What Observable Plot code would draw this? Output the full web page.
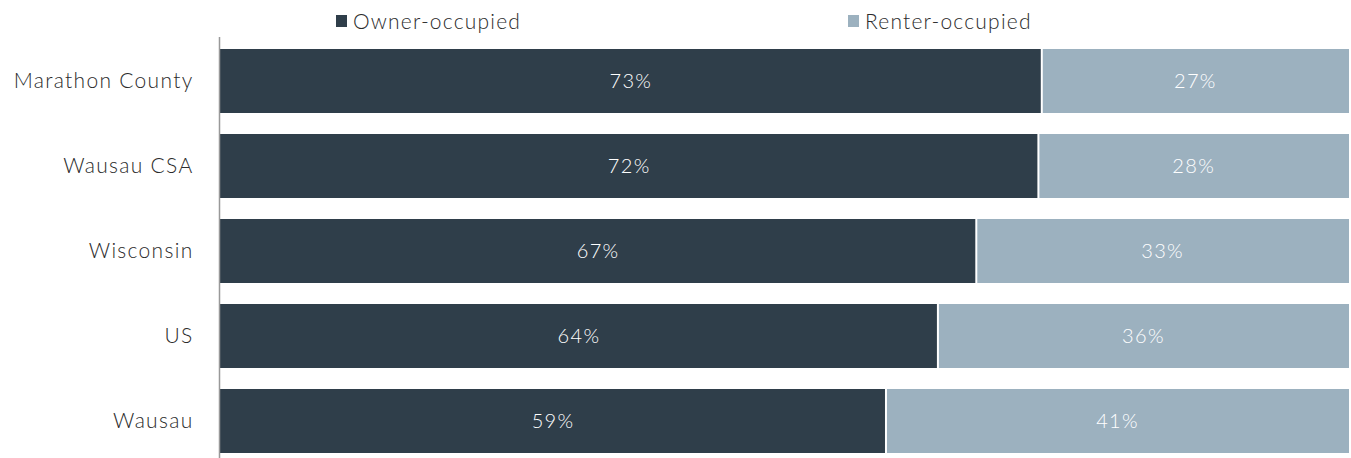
<!DOCTYPE html>
<html>
<head>
<meta charset="utf-8">
<script src="https://cdn.jsdelivr.net/npm/d3@7"></script>
<script src="https://cdn.jsdelivr.net/npm/@observablehq/plot@0.6"></script>
<style>
  html, body { margin: 0; padding: 0; background: #fff; }
  #wrap { position: relative; width: 1351px; height: 458px; font-family: Lato, "Open Sans", sans-serif; font-weight: 300; }
  .leg { position: absolute; top: 8px; font-size: 21px; letter-spacing: 1.2px; color: #2b2b2b; display: flex; align-items: center; white-space: nowrap; }
  .sw { display: inline-block; width: 11px; height: 12px; margin-right: 6px; }
  #chart { position: absolute; left: 0; top: 0; }
  #chart svg text { font-weight: 300; }
</style>
</head>
<body>
<div id="wrap">
  <div id="chart"></div>
  <div class="leg" style="left:336px"><span class="sw" style="background:#2f3e4a"></span>Owner-occupied</div>
  <div class="leg" style="left:848px"><span class="sw" style="background:#9cb1bf"></span>Renter-occupied</div>
</div>
<script>
const categories = ["Marathon County", "Wausau CSA", "Wisconsin", "US", "Wausau"];
const ownerValues = [72.7, 72.4, 66.9, 63.5, 58.9];
const ownerLabels = ["73%", "72%", "67%", "64%", "59%"];
const renterLabels = ["27%", "28%", "33%", "36%", "41%"];
const colors = { owner: "#2f3e4a", renter: "#9cb1bf" };

const owner = categories.map((c, i) => ({ cat: c, x1: 0, x2: ownerValues[i], label: ownerLabels[i] }));
const renter = categories.map((c, i) => ({ cat: c, x1: ownerValues[i], x2: 100, label: renterLabels[i] }));

const chart = Plot.plot({
  width: 1351,
  height: 458,
  marginLeft: 220,
  marginRight: 2,
  marginTop: 37,
  marginBottom: 0,
  style: { fontFamily: "Lato, 'Open Sans', sans-serif", fontSize: "21px", color: "#2b2b2b", background: "transparent", letterSpacing: "1.3px" },
  x: { domain: [0, 100], axis: null },
  y: { domain: categories, range: [37, 465], paddingInner: 0.25, paddingOuter: 0.129, align: 0.5, label: null },
  marks: [
    Plot.barX(owner, { y: "cat", x1: "x1", x2: "x2", fill: colors.owner }),
    Plot.barX(renter, { y: "cat", x1: "x1", x2: "x2", fill: colors.renter, insetLeft: 2 }),
    Plot.text(owner, { y: "cat", x: d => (d.x1 + d.x2) / 2, text: "label", fill: "white", fontSize: 20 }),
    Plot.text(renter, { y: "cat", x: d => (d.x1 + d.x2) / 2, text: "label", fill: "white", fontSize: 20 }),
    Plot.ruleX([0], { stroke: "#999", strokeWidth: 1.5, dx: -1 }),
    Plot.axisY({ tickSize: 0, tickPadding: 27, fontSize: 21, fill: "#2b2b2b" })
  ]
});
document.getElementById("chart").appendChild(chart);
</script>
</body>
</html>
